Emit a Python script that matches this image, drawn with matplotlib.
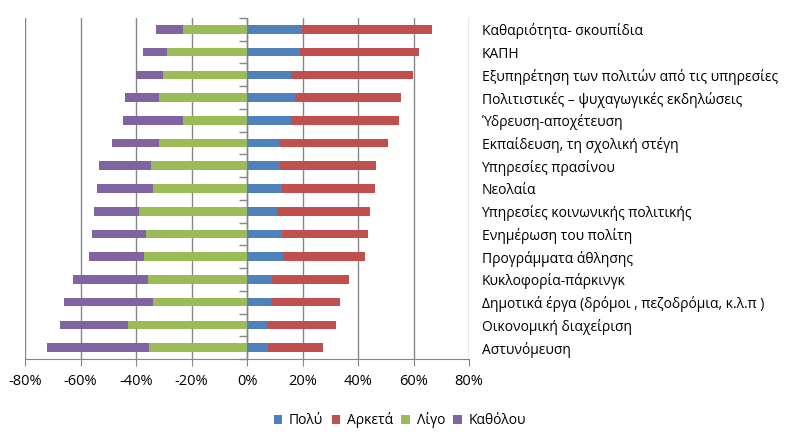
import matplotlib
matplotlib.use("Agg")
import matplotlib.pyplot as plt
import numpy as np

plt.rcParams['font.family'] = ['Open Sans', 'DejaVu Sans']

categories = ["Καθαριότητα- σκουπίδια", "ΚΑΠΗ",
              "Εξυπηρέτηση των πολιτών από τις υπηρεσίες",
              "Πολιτιστικές – ψυχαγωγικές εκδηλώσεις",
              "Ύδρευση-αποχέτευση", "Εκπαίδευση, τη σχολική στέγη",
              "Υπηρεσίες πρασίνου", "Νεολαία",
              "Υπηρεσίες κοινωνικής πολιτικής", "Ενημέρωση του πολίτη",
              "Προγράμματα άθλησης", "Κυκλοφορία-πάρκινγκ",
              "Δημοτικά έργα (δρόμοι , πεζοδρόμια, κ.λ.π )",
              "Οικονομική διαχείριση", "Αστυνόμευση"]

poly    = [19.7, 19.0, 15.9, 17.3, 15.7, 11.5, 11.8, 12.5, 10.7, 12.5, 12.9, 8.9, 8.8, 7.1, 7.4]
arketa  = [47.1, 43.1, 43.9, 38.3, 39.2, 39.4, 34.8, 33.7, 33.7, 31.2, 29.7, 28.0, 24.8, 25.1, 20.1]
ligo    = [23.2, 28.9, 30.4, 31.8, 23.2, 31.8, 34.7, 34.0, 39.0, 36.5, 37.2, 35.8, 34.0, 43.0, 35.4]
katholou = [9.7, 8.7, 9.7, 12.3, 21.6, 17.0, 18.8, 19.9, 16.3, 19.5, 19.9, 27.0, 32.1, 24.5, 36.8]

series_names = ["Πολύ", "Αρκετά", "Λίγο", "Καθόλου"]
colors = ['#4F81BD', '#C0504D', '#9BBB59', '#8064A2']

fig = plt.figure(figsize=(8, 4.45), dpi=100)
ax = fig.add_axes([25/800, 1 - 359/445, 444/800, 341/445])

y = np.arange(len(categories))
h = 0.38
poly = np.array(poly); arketa = np.array(arketa)
ligo = np.array(ligo); katholou = np.array(katholou)

ax.barh(y, poly, h, color=colors[0], label=series_names[0], zorder=3)
ax.barh(y, arketa, h, left=poly, color=colors[1], label=series_names[1], zorder=3)
ax.barh(y, -ligo, h, color=colors[2], label=series_names[2], zorder=3)
ax.barh(y, -katholou, h, left=-ligo, color=colors[3], label=series_names[3], zorder=3)

ax.set_xlim(-80, 80)
ax.set_ylim(len(categories) - 0.5, -0.5)
ax.set_xticks(np.arange(-80, 81, 20))
ax.set_xticklabels(['{:.0f}%'.format(v) for v in np.arange(-80, 81, 20)])
ax.grid(axis='x', color='#868686', linewidth=1, zorder=0)
ax.tick_params(axis='x', direction='out', length=5, color='#868686',
               labelsize=10.5, pad=6)

ax.yaxis.tick_right()
ax.set_yticks(y)
ax.set_yticklabels(categories)
ax.tick_params(axis='y', length=0, labelsize=10, pad=9)

for s in ['top', 'left', 'right']:
    ax.spines[s].set_visible(False)
ax.spines['bottom'].set_color('#868686')

# category axis at zero with separator ticks
ax.axvline(0, color='#868686', linewidth=1, zorder=2)
ax.plot(np.zeros(len(categories) + 1), np.arange(len(categories) + 1) - 0.5,
        linestyle='none', marker=0, markersize=6, color='#868686',
        markeredgewidth=1, zorder=2, clip_on=False)

fig.legend(loc='lower center', bbox_to_anchor=(0.5, 0.01), ncol=4, frameon=False,
           fontsize=10, handlelength=0.6, handleheight=0.6, handletextpad=0.5,
           columnspacing=0.6)

fig.savefig('out.png', dpi=100)
